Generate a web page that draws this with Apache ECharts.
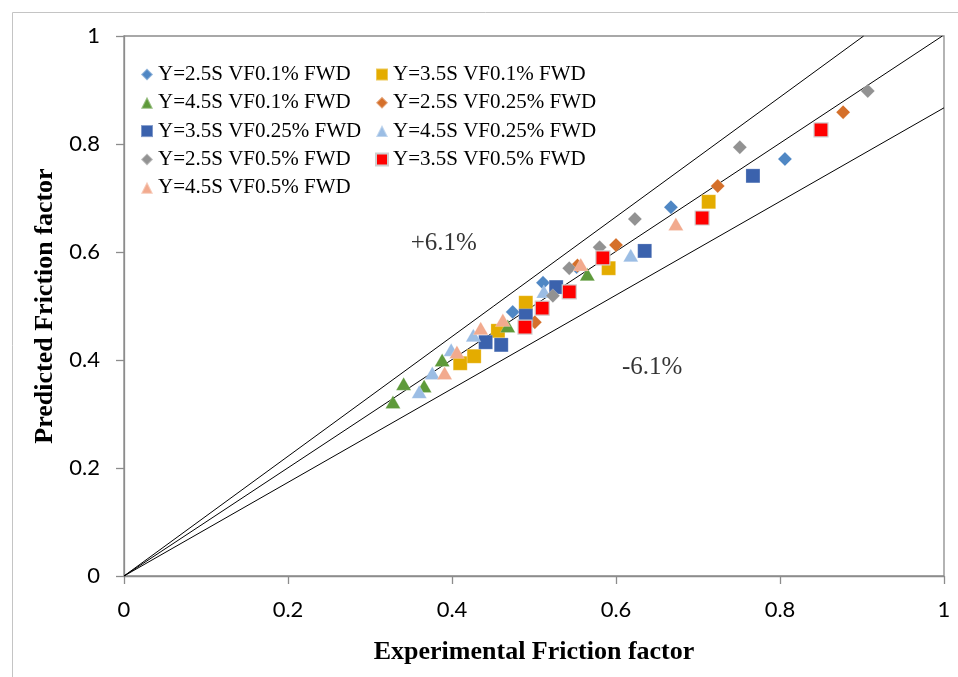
<!DOCTYPE html>
<html>
<head>
<meta charset="utf-8">
<script src="https://cdn.jsdelivr.net/npm/echarts@6/dist/echarts.min.js"></script>
<style>html,body{margin:0;padding:0;background:#fff;}#c{width:958px;height:677px;}</style>
</head>
<body>
<div id="c"></div>
<script>
// ---- data (x = experimental, y = predicted) ----
const seriesNames = [
  "Y=2.5S VF0.1% FWD", "Y=3.5S VF0.1% FWD", "Y=4.5S VF0.1% FWD",
  "Y=2.5S VF0.25% FWD", "Y=3.5S VF0.25% FWD", "Y=4.5S VF0.25% FWD",
  "Y=2.5S VF0.5% FWD", "Y=3.5S VF0.5% FWD", "Y=4.5S VF0.5% FWD"
];
const s25_01 = [[0.474,0.489],[0.511,0.543],[0.552,0.572],[0.667,0.683],[0.806,0.772]];
const s35_01 = [[0.410,0.394],[0.427,0.407],[0.456,0.454],[0.490,0.506],[0.591,0.570],[0.713,0.693]];
const s45_01 = [[0.328,0.322],[0.341,0.356],[0.366,0.352],[0.388,0.400],[0.468,0.463],[0.565,0.559]];
const s25_025 = [[0.501,0.470],[0.553,0.575],[0.600,0.613],[0.724,0.722],[0.877,0.859]];
const s35_025 = [[0.441,0.433],[0.460,0.428],[0.490,0.482],[0.527,0.535],[0.635,0.602],[0.767,0.741]];
const s45_025 = [[0.360,0.341],[0.376,0.376],[0.399,0.419],[0.426,0.446],[0.512,0.527],[0.618,0.594]];
const s25_05 = [[0.523,0.519],[0.543,0.570],[0.580,0.609],[0.623,0.661],[0.751,0.794],[0.907,0.898]];
const s35_05 = [[0.489,0.461],[0.510,0.496],[0.543,0.526],[0.584,0.589],[0.705,0.663],[0.850,0.826]];
const s45_05 = [[0.391,0.376],[0.406,0.415],[0.435,0.459],[0.462,0.474],[0.557,0.577],[0.673,0.652]];
const upperLine = [[0,0],[0.902,1]];
const middleLine = [[0,0],[0.998,1]];
const lowerLine = [[0,0],[1,0.867]];
const annotations = [[0.390,0.616,"+6.1%"],[0.644,0.386,"-6.1%"]];
const ticks = [0,0.2,0.4,0.6,0.8,1];

const seriesData = [s25_01,s35_01,s45_01,s25_025,s35_025,s45_025,s25_05,s35_05,s45_05];
const symbols = ['diamond','rect','triangle','diamond','rect','triangle','diamond','rect','triangle'];
const colors = ['#4f87c4','#e4ac00','#5e9a3a','#d5702b','#3b62ad','#9bbde4','#929292','#ff0000','#f2aa8e'];
const sizes = {diamond:[14,14], rect:[14,14], triangle:[15,13]};

const chart = echarts.init(document.getElementById('c'));
const scatter = seriesData.map((d,i)=>({
  name: seriesNames[i],
  type: 'scatter',
  data: d,
  symbol: symbols[i],
  symbolSize: sizes[symbols[i]],
  itemStyle: {
    color: colors[i],
    opacity: 1,
    borderColor: i===7 ? '#cfcfcf' : 'rgba(255,255,255,0.35)',
    borderWidth: i===7 ? 1.2 : 0.6
  },
  z: 3,
  emphasis: {disabled: true}
}));
const refLine = (d)=>({
  type:'line', data:d, symbol:'none', silent:true,
  lineStyle:{color:'#000', width:1}, z:2
});
const legendText = {fontFamily:'Liberation Serif', fontSize:21, color:'#000', lineHeight:21};

chart.setOption({
  animation:false,
  backgroundColor:'#fff',
  grid:{left:124, top:36, right:14, bottom:101, show:true, borderColor:'#8c8c8c', borderWidth:1.3, backgroundColor:'transparent'},
  xAxis:{
    type:'value', min:0, max:1, interval:0.2,
    name:'Experimental Friction factor', nameLocation:'middle', nameGap:63,
    nameTextStyle:{fontFamily:'Liberation Serif', fontWeight:'bold', fontSize:26, color:'#000'},
    axisLine:{show:true, lineStyle:{color:'#8c8c8c', width:1.3}},
    axisTick:{show:true, inside:false, length:8, lineStyle:{color:'#8c8c8c', width:1.3}},
    axisLabel:{fontFamily:'Lato', fontSize:22, color:'#000', margin:23,
      formatter:(v)=>{const t=ticks.find(k=>Math.abs(k-v)<1e-9); return String(t!==undefined?t:v);}},
    splitLine:{show:false}
  },
  yAxis:{
    type:'value', min:0, max:1, interval:0.2,
    name:'Predicted Friction factor', nameLocation:'middle', nameGap:66,
    nameTextStyle:{fontFamily:'Liberation Serif', fontWeight:'bold', fontSize:26, color:'#000'},
    axisLine:{show:true, lineStyle:{color:'#8c8c8c', width:1.3}},
    axisTick:{show:true, inside:false, length:8, lineStyle:{color:'#8c8c8c', width:1.3}},
    axisLabel:{fontFamily:'Lato', fontSize:22, color:'#000', margin:24,
      formatter:(v)=>{const t=ticks.find(k=>Math.abs(k-v)<1e-9); return String(t!==undefined?t:v);}},
    splitLine:{show:false}
  },
  legend:[
    {orient:'vertical', left:135, top:59, itemGap:7.3, itemWidth:12, itemHeight:12,
     data:[seriesNames[0],seriesNames[2],seriesNames[4],seriesNames[6],seriesNames[8]],
     textStyle:legendText, selectedMode:false},
    {orient:'vertical', left:370, top:59, itemGap:7.3, itemWidth:12, itemHeight:12,
     data:[seriesNames[1],seriesNames[3],seriesNames[5],seriesNames[7]],
     textStyle:legendText, selectedMode:false}
  ],
  graphic:[
    {type:'rect', left:10, top:10, shape:{width:1000, height:1000},
     style:{fill:'none', stroke:'#c4c4c4', lineWidth:1}, silent:true, z:-1}
  ],
  series:[
    refLine(upperLine), refLine(middleLine), refLine(lowerLine),
    ...scatter,
    {type:'scatter', data:annotations, symbolSize:0, silent:true,
     label:{show:true, position:'inside', formatter:(p)=>p.value[2],
       fontFamily:'Liberation Serif', fontSize:25, color:'#000'}}
  ]
});
</script>
</body>
</html>
